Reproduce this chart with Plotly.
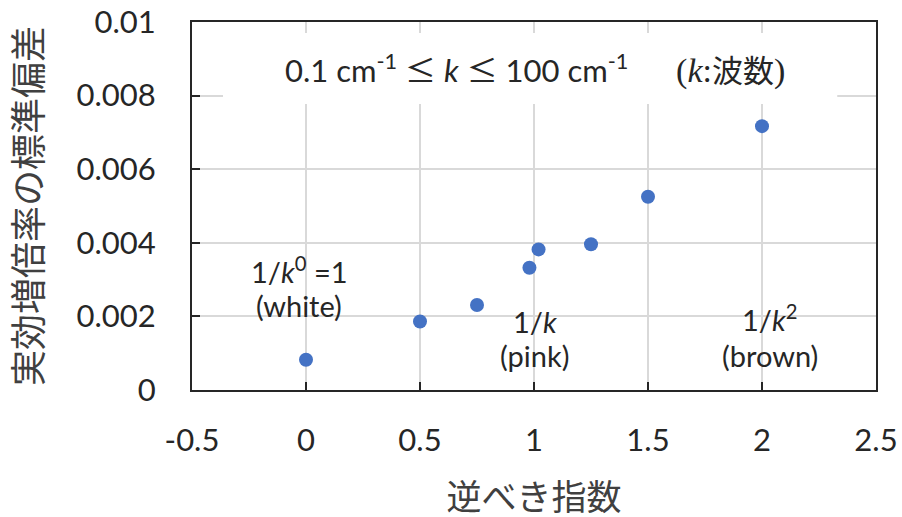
import plotly.graph_objects as go

# Data
inv_power_exponent = [0.0, 0.5, 0.75, 0.98, 1.02, 1.25, 1.5, 2.0]
std_dev_keff = [0.00082, 0.00186, 0.00231, 0.00332, 0.00382, 0.00396, 0.00525, 0.00717]

x_tick_vals = [-0.5, 0, 0.5, 1, 1.5, 2, 2.5]
x_tick_text = ["-0.5", "0", "0.5", "1", "1.5", "2", "2.5"]
y_tick_vals = [0, 0.002, 0.004, 0.006, 0.008, 0.01]
y_tick_text = ["0", "0.002", "0.004", "0.006", "0.008", "0.01"]

# noise-colour labels: x, y of first line, y of second line, line1, line2
label_x = [-0.03, 1.004, 2.035]
label_y1 = [0.00327, 0.00185, 0.00196]
label_y2 = [0.00229, 0.00095, 0.00095]
label_line1 = ["1/<i>k</i><sup>0</sup> =1", "1/<i>k</i>", "1/<i>k</i><sup>2</sup>"]
label_line2 = ["(white)", "(pink)", "(brown)"]

FONT = "Lato, 'Noto Sans CJK JP', sans-serif"
TXT = "#262626"

fig = go.Figure()
fig.add_trace(go.Scatter(
    x=inv_power_exponent, y=std_dev_keff, mode="markers",
    marker=dict(color="#4472C4", size=14, line=dict(width=0)),
    showlegend=False, hoverinfo="x+y",
))

axis_common = dict(
    showline=True, linecolor="#262626", linewidth=2, mirror=True,
    showgrid=True, gridcolor="#d9d9d9", gridwidth=2,
    ticks="inside", ticklen=8, tickwidth=1.5, tickcolor="#262626",
    tickfont=dict(family=FONT, size=31, color=TXT),
    zeroline=False, automargin=False,
)

fig.update_xaxes(
    range=[-0.5, 2.5], tickvals=x_tick_vals, ticktext=x_tick_text,
    ticklabelstandoff=22,
    title=dict(text="逆べき指数", font=dict(family=FONT, size=35, color="#404040"), standoff=30),
    **axis_common,
)
fig.update_yaxes(
    range=[0, 0.01], tickvals=y_tick_vals, ticktext=y_tick_text,
    ticklabelstandoff=28,
    title=dict(text="実効増倍率の標準偏差", font=dict(family="'Noto Sans CJK JP', sans-serif", size=36, color="#404040"), standoff=26),
    **axis_common,
)

# white box behind the range statement (hides grid lines)
fig.add_shape(type="rect", xref="x", yref="y", x0=-0.364, x1=2.33, y0=0.00777, y1=0.0097,
              fillcolor="white", line=dict(width=0), layer="above")

LE = "<span style='font-family:\"Noto Sans CJK JP\"'>≤</span>"
SERIF = "font-family:\"Liberation Serif\";font-size:34px"
fig.add_annotation(
    xref="x", yref="y", x=1.004, y=0.00875, showarrow=False,
    text=("0.1 cm<sup>-1</sup> " + LE + " <i>k</i> " + LE + " 100 cm<sup>-1</sup>"
          + "&nbsp;" * 6
          + "<span style='" + SERIF + "'>(<i>k</i>:</span>"
          + "<span style='font-family:\"Noto Sans CJK JP\"'>波数</span>"
          + "<span style='" + SERIF + "'>)</span>"),
    font=dict(family=FONT, size=31, color=TXT),
)

for lx, y1, y2, t1, t2 in zip(label_x, label_y1, label_y2, label_line1, label_line2):
    fig.add_annotation(x=lx, y=y1, text=t1, showarrow=False,
                       font=dict(family=FONT, size=29, color=TXT))
    fig.add_annotation(x=lx, y=y2, text=t2, showarrow=False,
                       font=dict(family=FONT, size=29, color=TXT))

fig.update_layout(
    width=902, height=517,
    margin=dict(l=192, r=26, t=22, b=127),
    paper_bgcolor="white", plot_bgcolor="white",
)

fig.write_html("out.html")
